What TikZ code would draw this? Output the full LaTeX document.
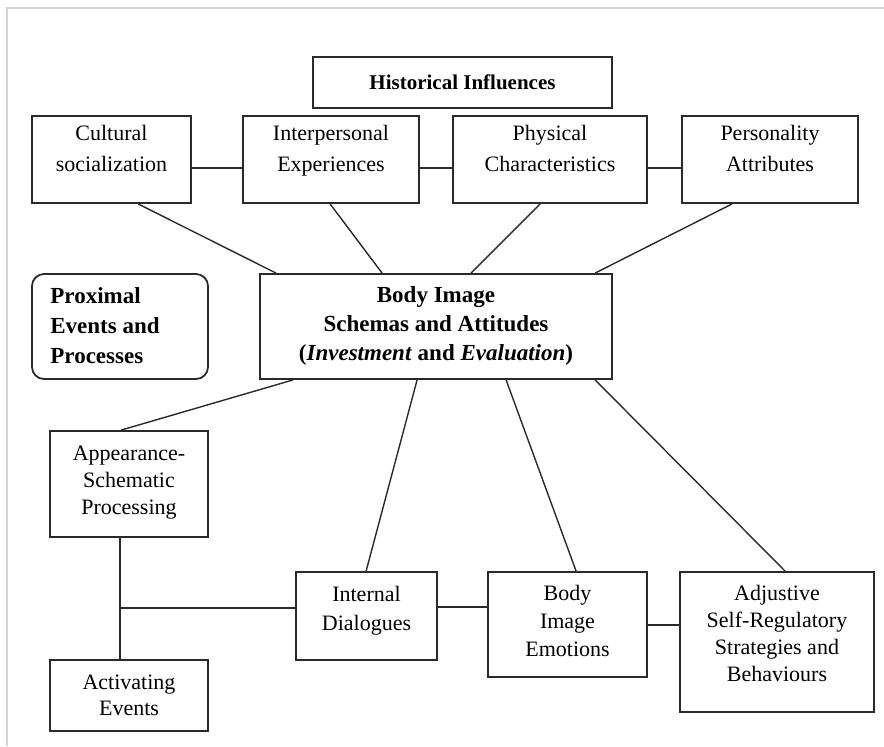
\documentclass[tikz,border=0pt]{standalone}
\usepackage{fontspec}
\setmainfont{Liberation Serif}
\definecolor{framegray}{HTML}{D4D4D4}
\definecolor{ink}{HTML}{2A2A2A}
\begin{document}
\begin{tikzpicture}[x=0.5pt,y=-0.5pt,
  box/.style={draw=ink, line width=0.9pt, inner sep=0pt},
  conn/.style={draw=ink, line width=0.7pt},
  txt/.style={align=center, inner sep=0pt, font=\fontsize{11}{15.5}\selectfont,
    execute at begin node=\strut, execute at end node=\strut},
  btxt/.style={align=center, inner sep=0pt, font=\bfseries\fontsize{11.5}{14.5}\selectfont,
    execute at begin node=\strut, execute at end node=\strut}]
\useasboundingbox (0,0) rectangle (884,746);
\draw[framegray, line width=1pt] (7,746) -- (7,7.5) -- (884,7.5);

% boxes
\node[box, minimum width=149.5pt, minimum height=25.5pt] (hist) at (462.5,82.5) {};
\node[btxt, font=\bfseries\fontsize{10.5}{13}\selectfont] (histt) at (462.5,84.5) {Historical Influences};

\node[box, minimum width=79.5pt, minimum height=43.5pt] (cult) at (111.5,159.5) {};
\node[txt] (cultt) at (111.5,153.5) {Cultural\\socialization};
\node[box, minimum width=88pt, minimum height=43.5pt] (inter) at (331,159.5) {};
\node[txt] (intert) at (331,153.5) {Interpersonal\\Experiences};
\node[box, minimum width=97pt, minimum height=43.5pt] (phys) at (550,159.5) {};
\node[txt] (physt) at (550,153.5) {Physical\\Characteristics};
\node[box, minimum width=88pt, minimum height=43.5pt] (pers) at (770,159.5) {};
\node[txt] (perst) at (770,153.5) {Personality\\Attributes};

\node[box, minimum width=176pt, minimum height=52.5pt] (body) at (436,326.5) {};
\node[btxt] (bodyt) at (436,327.5) {Body Image\\Schemas and Attitudes\\(\textit{Investment} and \textit{Evaluation})};

\node[box, rounded corners=6pt, minimum width=88pt, minimum height=52.5pt] (prox) at (120,326.5) {};
\node[btxt, align=left, anchor=west, font=\bfseries\fontsize{11.5}{15}\selectfont] (proxt) at (50,330) {Proximal\\Events and\\Processes};

\node[box, minimum width=79pt, minimum height=53pt] (app) at (129,484) {};
\node[txt, font=\fontsize{11}{13.5}\selectfont] (appt) at (129,484.5) {Appearance-\\Schematic\\Processing};
\node[box, minimum width=79pt, minimum height=35.5pt] (act) at (129,695.5) {};
\node[txt, font=\fontsize{11}{13}\selectfont] (actt) at (129,699) {Activating\\Events};

\node[box, minimum width=70.5pt, minimum height=44pt] (intl) at (366.5,616) {};
\node[txt, font=\fontsize{11}{14.5}\selectfont] (intlt) at (366.5,613) {Internal\\Dialogues};
\node[box, minimum width=79.5pt, minimum height=52.5pt] (bie) at (567.5,624.5) {};
\node[txt, font=\fontsize{11}{14}\selectfont] (biet) at (567.5,625) {Body\\Image\\Emotions};
\node[box, minimum width=97pt, minimum height=70pt] (adj) at (777,642) {};
\node[txt, font=\fontsize{11}{13.5}\selectfont] (adjt) at (777,637.5) {Adjustive\\Self-Regulatory\\Strategies and\\Behaviours};

% top row horizontal links
\draw[conn] ([yshift=-4.25pt]cult.east) coordinate (c1) -- (c1 -| inter.west);
\draw[conn] ([yshift=-4.25pt]inter.east) coordinate (c2) -- (c2 -| phys.west);
\draw[conn] ([yshift=-4.25pt]phys.east) coordinate (c3) -- (c3 -| pers.west);

% to body
\draw[conn] ([xshift=53.5pt]cult.south west) -- ([xshift=8.5pt]body.north west);
\draw[conn] ([xshift=44pt]inter.south west) -- ([xshift=61.5pt]body.north west);
\draw[conn] ([xshift=44pt]phys.south west) -- ([xshift=106pt]body.north west);
\draw[conn] ([xshift=25.5pt]pers.south west) -- ([xshift=168pt]body.north west);

% from body
\draw[conn] ([xshift=17pt]body.south west) -- ([xshift=36pt]app.north west);
\draw[conn] ([xshift=79pt]body.south west) -- ([xshift=35.5pt]intl.north west);
\draw[conn] ([xshift=123.5pt]body.south west) -- ([xshift=44.5pt]bie.north west);
\draw[conn] ([xshift=168pt]body.south west) -- ([xshift=53pt]adj.north west);

% bottom links
\draw[conn] ([xshift=35.5pt]app.south west) -- ([xshift=35.5pt]act.north west);
\coordinate (j) at (121,608);
\draw[conn] (j) -- (j -| intl.west);
\draw[conn] ([yshift=4.5pt]intl.east) coordinate (c4) -- (c4 -| bie.west);
\draw[conn] ([yshift=-0.25pt]bie.east) coordinate (c5) -- (c5 -| adj.west);
\end{tikzpicture}
\end{document}
